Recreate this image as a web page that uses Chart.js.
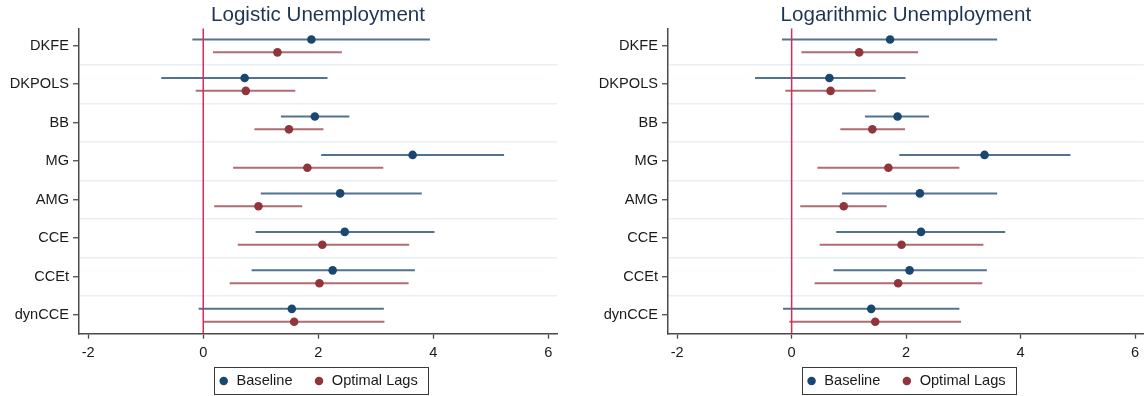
<!DOCTYPE html>
<html>
<head>
<meta charset="utf-8">
<title>Unemployment coefficient estimates</title>
<script src="https://cdn.jsdelivr.net/npm/chart.js@4.4.1/dist/chart.umd.min.js"></script>
<style>
  html, body { margin: 0; padding: 0; background: #ffffff; }
  #wrap { position: relative; width: 1148px; height: 396px; overflow: hidden; }
  #wrap canvas { position: absolute; top: 0; }
</style>
</head>
<body>
<div id="wrap">
  <canvas id="logistic" width="574" height="396" style="left:0px"></canvas>
  <canvas id="logarithmic" width="574" height="396" style="left:574px"></canvas>
</div>
<script>
// Estimators, listed top to bottom
const methods = ['DKFE', 'DKPOLS', 'BB', 'MG', 'AMG', 'CCE', 'CCEt', 'dynCCE'];
const xTicks = [-2, 0, 2, 4, 6];

// Logistic unemployment: point estimates and 95% interval bounds
const logisticBaselineEst = [1.88, 0.72, 1.94, 3.64, 2.38, 2.46, 2.25, 1.54];
const logisticBaselineLo  = [-0.19, -0.73, 1.35, 2.05, 1.00, 0.91, 0.84, -0.08];
const logisticBaselineHi  = [3.94, 2.16, 2.54, 5.23, 3.80, 4.02, 3.68, 3.14];
const logisticOptimalEst  = [1.29, 0.74, 1.49, 1.81, 0.96, 2.07, 2.02, 1.58];
const logisticOptimalLo   = [0.17, -0.13, 0.89, 0.52, 0.19, 0.60, 0.46, 0.00];
const logisticOptimalHi   = [2.41, 1.60, 2.09, 3.13, 1.72, 3.58, 3.57, 3.15];

// Logarithmic unemployment: point estimates and 95% interval bounds
const logBaselineEst = [1.72, 0.66, 1.85, 3.37, 2.24, 2.26, 2.06, 1.39];
const logBaselineLo  = [-0.17, -0.64, 1.28, 1.88, 0.88, 0.78, 0.73, -0.15];
const logBaselineHi  = [3.59, 1.99, 2.40, 4.87, 3.59, 3.73, 3.41, 2.93];
const logOptimalEst  = [1.18, 0.68, 1.41, 1.69, 0.91, 1.92, 1.86, 1.46];
const logOptimalLo   = [0.17, -0.11, 0.85, 0.45, 0.15, 0.49, 0.40, -0.04];
const logOptimalHi   = [2.21, 1.47, 1.98, 2.93, 1.66, 3.35, 3.33, 2.96];

const FONT = "'Liberation Sans', Arial, Helvetica, sans-serif";
const NAVY = '#1a476f';
const MAROON = '#90353b';
const NAVY_CI = 'rgba(26, 71, 111, 0.76)';
const MAROON_CI = 'rgba(144, 53, 59, 0.72)';
const AXIS = '#4a4a4a';
const TEXT = '#1a1a1a';

const X_MIN = -2.16, X_MAX = 6.15;
const Y_MIN = 0.55, Y_MAX = 8.486;
const SHIFT_BASE = -0.16, SHIFT_OPT = 0.175;

// interval segments, separated by null points so each one is drawn alone
function intervalSegments(lo, hi, shift) {
  const pts = [];
  methods.forEach((m, i) => {
    pts.push({ x: lo[i], y: i + 1 + shift });
    pts.push({ x: hi[i], y: i + 1 + shift });
    pts.push({ x: null, y: null });
  });
  return pts;
}
function estimatePoints(est, shift) {
  return methods.map((m, i) => ({ x: est[i], y: i + 1 + shift }));
}

// the x axis box is kept short so the legend sits close; let its tick labels run below it
const freeTickLabels = {
  id: 'freeTickLabels',
  afterLayout(chart) {
    chart.scales.x.bottom = chart.height;
  }
};

// thin box around the legend entries
const legendFrame = {
  id: 'legendFrame',
  afterDraw(chart) {
    const boxes = chart.legend && chart.legend.legendHitBoxes;
    if (!boxes || !boxes.length) return;
    const first = boxes[0], last = boxes[boxes.length - 1];
    const cy = first.top + first.height / 2;
    const x0 = Math.round(first.left - 4) + 0.5;
    const x1 = Math.round(last.left + last.width + 10) + 0.5;
    const y0 = Math.round(cy - 14) + 0.5;
    const y1 = Math.round(cy + 13) + 0.5;
    const ctx = chart.ctx;
    ctx.save();
    ctx.strokeStyle = '#3a3a3a';
    ctx.lineWidth = 1;
    ctx.strokeRect(x0, y0, x1 - x0, y1 - y0);
    ctx.restore();
  }
};

function buildChart(id, title, s, axisWidth, padRight) {
  const datasets = [
    { label: 'Baseline', data: estimatePoints(s.bEst, SHIFT_BASE), backgroundColor: NAVY,
      borderWidth: 0, pointRadius: 4.3, showLine: false },
    { label: 'Optimal Lags', data: estimatePoints(s.oEst, SHIFT_OPT), backgroundColor: MAROON,
      borderWidth: 0, pointRadius: 4.3, showLine: false },
    { label: 'zero', data: [{ x: 0, y: Y_MIN }, { x: 0, y: Y_MAX }], showLine: true,
      borderColor: '#dc2a58', borderWidth: 1.5, pointRadius: 0 },
    { label: 'Baseline CI', data: intervalSegments(s.bLo, s.bHi, SHIFT_BASE), showLine: true,
      spanGaps: false, borderColor: NAVY_CI, borderWidth: 2, pointRadius: 0 },
    { label: 'Optimal Lags CI', data: intervalSegments(s.oLo, s.oHi, SHIFT_OPT), showLine: true,
      spanGaps: false, borderColor: MAROON_CI, borderWidth: 2, pointRadius: 0 }
  ];

  return new Chart(document.getElementById(id), {
    type: 'scatter',
    data: { datasets },
    plugins: [freeTickLabels, legendFrame],
    options: {
      responsive: false,
      animation: false,
      events: [],
      layout: { padding: { left: 0, right: padRight, top: 0, bottom: 0 } },
      scales: {
        x: {
          type: 'linear', position: 'bottom', min: X_MIN, max: X_MAX,
          afterBuildTicks: sc => { sc.ticks = xTicks.map(v => ({ value: v })); },
          afterFit: sc => { sc.height = 19; },
          ticks: { color: TEXT, font: { family: FONT, size: 14.6 }, padding: 5.7, maxRotation: 0 },
          grid: { drawOnChartArea: false, drawTicks: true, tickLength: 5, tickColor: AXIS, tickWidth: 1.3 },
          border: { display: true, color: AXIS, width: 1.5 }
        },
        y: {
          type: 'linear', position: 'left', reverse: true, min: Y_MIN, max: Y_MAX,
          afterBuildTicks: sc => {
            const t = [];
            for (let v = 1; v <= methods.length; v += 0.5) t.push({ value: v });
            sc.ticks = t;
          },
          afterFit: sc => { sc.width = axisWidth; },
          ticks: {
            autoSkip: false, color: TEXT, font: { family: FONT, size: 14.6 }, padding: 4,
            callback: v => Number.isInteger(v) ? methods[v - 1] : ''
          },
          grid: {
            drawOnChartArea: true, drawTicks: true, tickLength: 6,
            color: c => (c.tick && !Number.isInteger(c.tick.value)) ? '#e8f0f3' : 'rgba(0,0,0,0)',
            lineWidth: 1.5,
            tickColor: c => (c.tick && Number.isInteger(c.tick.value)) ? AXIS : 'rgba(0,0,0,0)',
            tickWidth: 1.3
          },
          border: { display: true, color: AXIS, width: 1.5 }
        }
      },
      plugins: {
        title: {
          display: true, text: title, fullSize: false, color: '#1d3552',
          font: { family: FONT, size: 20.6, weight: 'normal' },
          padding: { top: 3, bottom: 0.6 }
        },
        legend: {
          display: true, position: 'bottom', fullSize: false, maxHeight: 43.3,
          labels: {
            usePointStyle: true, pointStyle: 'circle', boxWidth: 11, boxHeight: 6, padding: 21,
            color: TEXT, font: { family: FONT, size: 14.6 },
            filter: item => item.datasetIndex < 2
          }
        },
        tooltip: { enabled: false }
      }
    }
  });
}

buildChart('logistic', 'Logistic Unemployment', {
  bEst: logisticBaselineEst, bLo: logisticBaselineLo, bHi: logisticBaselineHi,
  oEst: logisticOptimalEst, oLo: logisticOptimalLo, oHi: logisticOptimalHi
}, 79, 17);

buildChart('logarithmic', 'Logarithmic Unemployment', {
  bEst: logBaselineEst, bLo: logBaselineLo, bHi: logBaselineHi,
  oEst: logOptimalEst, oLo: logOptimalLo, oHi: logOptimalHi
}, 94, 2);
</script>
</body>
</html>
